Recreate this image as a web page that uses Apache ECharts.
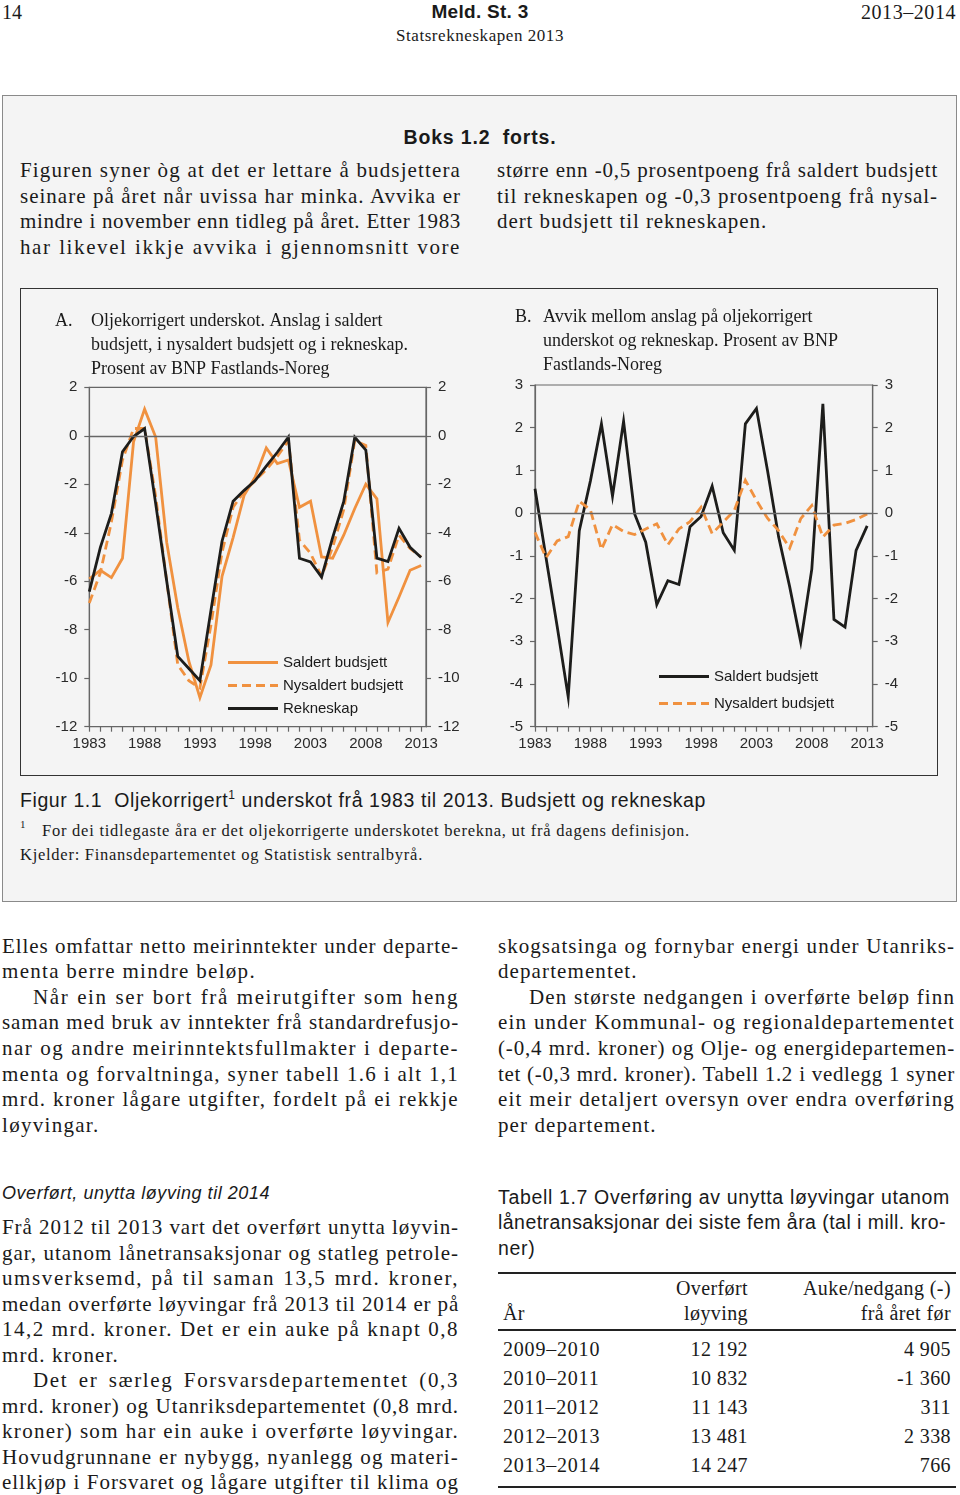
<!DOCTYPE html>
<html>
<head>
<meta charset="utf-8">
<script src="https://cdn.jsdelivr.net/npm/echarts@6/dist/echarts.min.js"></script>
<style>
  html, body { margin:0; padding:0; background:#fff; }
  body { width:960px; height:1495px; position:relative; overflow:hidden; color:#1a1a1a; }
  .t { position:absolute; white-space:nowrap; line-height:26px; }
  .serif { font-family:"Liberation Serif","DejaVu Serif",serif; font-size:21px; }
  .sans { font-family:"Liberation Sans",Arial,sans-serif; }
  .j { text-align:justify; text-align-last:justify; }
  #box { position:absolute; left:2px; top:95px; width:953px; height:805px; background:#f4f4f4; border:1.5px solid #8a8a8a; }
  #frame { position:absolute; left:20px; top:288px; width:916px; height:486px; border:1.5px solid #333; }
  #chart { position:absolute; left:0; top:280px; width:960px; height:500px; }
  .rule { position:absolute; left:498px; width:458px; background:#222; }
</style>
</head>
<body>
<div id="box"></div>
<div id="frame"></div>
<div id="chart"></div>
<div id="txt"></div>
<script>
// ---------- data ----------
const years = [1983,1984,1985,1986,1987,1988,1989,1990,1991,1992,1993,1994,1995,1996,1997,1998,1999,2000,2001,2002,2003,2004,2005,2006,2007,2008,2009,2010,2011,2012,2013];
const labelYears = [1983,1988,1993,1998,2003,2008,2013];

// Panel A: oil-corrected deficit, % of mainland GDP
const aSaldert   = [-5.9,-5.55,-5.85,-5.05,-0.25,1.1,-0.05,-4.4,-7.1,-9.3,-10.8,-9.45,-5.8,-4.2,-2.45,-1.7,-0.5,-1.15,-1.0,-2.95,-2.7,-5.0,-5.05,-4.1,-3.0,-2.0,-2.6,-7.7,-6.65,-5.55,-5.35];
const aNysaldert = [-6.9,-5.65,-3.55,-1.0,0.3,0.3,-2.5,-6.0,-9.45,-10.1,-10.4,-7.8,-4.8,-2.95,-2.3,-1.85,-1.4,-0.85,-0.2,-4.3,-4.85,-5.8,-4.6,-3.05,-0.2,-0.4,-5.65,-5.5,-4.1,-4.65,-5.0];
const aRekneskap = [-6.43,-4.6,-3.2,-0.66,-0.03,0.3,-2.8,-6.0,-9.1,-9.6,-10.1,-7.2,-4.35,-2.7,-2.25,-1.85,-1.25,-0.68,-0.05,-5.05,-5.2,-5.83,-4.2,-2.72,-0.06,-0.59,-5.05,-5.19,-3.82,-4.6,-5.02];

// Panel B: deviation between estimates and accounts
const bSaldert   = [0.57,-1.05,-2.65,-4.3,-0.41,0.75,2.09,0.4,2.15,-0.02,-0.68,-2.14,-1.58,-1.67,-0.32,-0.08,0.63,-0.46,-0.87,2.09,2.45,1.0,-0.55,-1.72,-3.02,-1.31,2.56,-2.49,-2.67,-0.87,-0.3];
const bNysaldert = [-0.45,-1.04,-0.65,-0.55,0.28,0.08,-0.85,-0.27,-0.43,-0.5,-0.37,-0.25,-0.74,-0.37,-0.2,0.14,-0.48,-0.21,0.06,0.77,0.3,-0.12,-0.41,-0.82,-0.13,0.18,-0.56,-0.28,-0.24,-0.15,-0.02];

const yTicksA = {min:-12, max:2, interval:2};
const yTicksB = {min:-5, max:3, interval:1};

// table
const tabYears = ["2009–2010","2010–2011","2011–2012","2012–2013","2013–2014"];
const tabOverfort = ["12 192","10 832","11 143","13 481","14 247"];
const tabAuke = ["4 905","-1 360","311","2 338","766"];

// ---------- page text ----------
const T = document.getElementById('txt');
function put(text, x, y, w, cls, extra, fillW, ls) {
  const d = document.createElement('div');
  d.className = 't ' + cls;
  d.style.left = x + 'px';
  d.style.top = (y - 13) + 'px';
  if (extra) Object.assign(d.style, extra);
  d.innerHTML = text;
  T.appendChild(d);
  let used = 0;
  if (fillW) {
    const nat = d.getBoundingClientRect().width;
    const n = d.textContent.length;
    used = (fillW - nat) / n;
    if (ls !== undefined) used = Math.max(ls[0], Math.min(ls[1], used));
    d.style.letterSpacing = used + 'px';
  } else if (typeof ls === 'number') {
    d.style.letterSpacing = ls + 'px'; used = ls;
  }
  if (w) d.style.width = w + 'px';
  d._ls = used;
  return d;
}
// header
put('14', 2, 12, 0, 'serif', {fontSize:'20px'});
put('Meld. St. 3', 380, 12, 200, 'sans', {fontWeight:'bold', fontSize:'19px', textAlign:'center'}, 97);
put('2013–2014', 760, 12, 196, 'serif', {fontSize:'20px', textAlign:'right'}, 95);
put('Statsrekneskapen 2013', 330, 36, 300, 'serif', {fontSize:'17px', textAlign:'center'}, 168);
put('Boks 1.2&nbsp; forts.', 380, 137, 200, 'sans', {fontWeight:'bold', fontSize:'19.5px', textAlign:'center'}, 153);

function col(lines, x, ys, w) {
  const els = lines.map((l,i)=>{
    const ind = l[1] ? 31 : 0;
    if (l[2]) return put(l[0], x+ind, ys[i], w-ind, 'serif j', null, w-ind-2, [-1, 1.6]);
    return null;
  });
  const vals = els.filter(e=>e).map(e=>e._ls).sort((a,b)=>a-b);
  const med = vals.length ? vals[Math.floor(vals.length/2)] : 0;
  lines.forEach((l,i)=>{
    if (!l[2]) { const ind = l[1] ? 31 : 0; put(l[0], x+ind, ys[i], 0, 'serif', null, 0, med); }
  });
}
const boxY = [170,196,221,247];
col([['Figuren syner òg at det er lettare å budsjettera',0,1],['seinare på året når uvissa har minka. Avvika er',0,1],['mindre i november enn tidleg på året. Etter 1983',0,1],['har likevel ikkje avvika i gjennomsnitt vore',0,1]], 20, boxY, 441);
col([['større enn -0,5 prosentpoeng frå saldert budsjett',0,1],['til rekneskapen og -0,3 prosentpoeng frå nysal-',0,1],['dert budsjett til rekneskapen.',0,0]], 497, boxY, 441);

put('Figur 1.1&nbsp; Oljekorrigert<sup style="font-size:12px;vertical-align:8px;line-height:0">1</sup> underskot frå 1983 til 2013. Budsjett og rekneskap', 20, 800, 0, 'sans', {fontSize:'19.5px'}, 686);
put('<sup style="font-size:11px;vertical-align:6px;line-height:0">1</sup>', 20, 829, 0, 'serif', {fontSize:'15px'});
put('For dei tidlegaste åra er det oljekorrigerte underskotet berekna, ut frå dagens definisjon.', 42, 831, 0, 'serif', {fontSize:'16.5px'}, 648);
put('Kjelder: Finansdepartementet og Statistisk sentralbyrå.', 20, 855, 0, 'serif', {fontSize:'16.5px'}, 403);

const bodyY = [946,971,997,1022,1048,1074,1099,1125];
const colL = [['Elles omfattar netto meirinntekter under departe-',0,1],['menta berre mindre beløp.',0,0],['Når ein ser bort frå meirutgifter som heng',1,1],['saman med bruk av inntekter frå standardrefusjo-',0,1],['nar og andre meirinntektsfullmakter i departe-',0,1],['menta og forvaltninga, syner tabell 1.6 i alt 1,1',0,1],['mrd. kroner lågare utgifter, fordelt på ei rekkje',0,1],['løyvingar.',0,0]];
const colR = [['skogsatsinga og fornybar energi under Utanriks-',0,1],['departementet.',0,0],['Den største nedgangen i overførte beløp finn',1,1],['ein under Kommunal- og regionaldepartementet',0,1],['(-0,4 mrd. kroner) og Olje- og energidepartemen-',0,1],['tet (-0,3 mrd. kroner). Tabell 1.2 i vedlegg 1 syner',0,1],['eit meir detaljert oversyn over endra overføring',0,1],['per departement.',0,0]];
col(colL, 2, bodyY, 457);
col(colR, 498, bodyY, 457);

put('Overført, unytta løyving til 2014', 2, 1193, 0, 'sans', {fontStyle:'italic', fontSize:'18px'}, 268);
const lowY = [1227,1253,1278,1304,1329,1355,1380,1406,1431,1457,1482];
const colL2 = [['Frå 2012 til 2013 vart det overført unytta løyvin-',0,1],['gar, utanom lånetransaksjonar og statleg petrole-',0,1],['umsverksemd, på til saman 13,5 mrd. kroner,',0,1],['medan overførte løyvingar frå 2013 til 2014 er på',0,1],['14,2 mrd. kroner. Det er ein auke på knapt 0,8',0,1],['mrd. kroner.',0,0],['Det er særleg Forsvarsdepartementet (0,3',1,1],['mrd. kroner) og Utanriksdepartementet (0,8 mrd.',0,1],['kroner) som har ein auke i overførte løyvingar.',0,1],['Hovudgrunnane er nybygg, nyanlegg og materi-',0,1],['ellkjøp i Forsvaret og lågare utgifter til klima og',0,1]];
col(colL2, 2, lowY, 457);

const c1 = put('Tabell 1.7 Overføring av unytta løyvingar utanom', 498, 1197, 0, 'sans', {fontSize:'19.5px'}, 452);
put('lånetransaksjonar dei siste fem åra (tal i mill. kro-', 498, 1222, 0, 'sans', {fontSize:'19.5px'}, 448);
put('ner)', 498, 1248, 0, 'sans', {fontSize:'19.5px'}, 0, c1._ls);
function rule(y, h) { const d=document.createElement('div'); d.className='rule'; d.style.top=(y-h/2)+'px'; d.style.height=h+'px'; T.appendChild(d); }
rule(1273, 2); rule(1330, 2); rule(1487, 2);
const hs = {fontSize:'20px', textAlign:'right'};
const h1 = put('Auke/nedgang (-)', 760, 1288, 191, 'serif', hs, 148);
const tl = h1._ls;
put('Overført', 640, 1288, 108, 'serif', hs, 0, tl);
put('løyving', 640, 1313, 108, 'serif', hs, 0, tl);
put('frå året før', 760, 1313, 191, 'serif', hs, 0, tl);
put('År', 503, 1313, 0, 'serif', {fontSize:'20px'}, 0, tl);
const rowY = [1349,1378,1407,1436,1465];
tabYears.forEach((s,i)=>{
  put(s, 503, rowY[i], 0, 'serif', {fontSize:'20px'}, 0, 0.8);
  put(tabOverfort[i], 640, rowY[i], 108, 'serif', hs, 0, 0.4);
  put(tabAuke[i], 760, rowY[i], 191, 'serif', hs, 0, 0.4);
});

// ---------- charts ----------
const ORANGE = '#F0913F', BLACK = '#1d1d1b', AX = '#666';
const pairs = arr => years.map((y,i)=>[y, arr[i]]);
const lab = {fontFamily:'Liberation Sans, Arial, sans-serif', fontSize:15, color:'#2a2a2a'};

function xAx(gi, max) {
  return {type:'value', gridIndex:gi, min:1983, max:max,
    axisLine:{show:true, onZero:false, lineStyle:{color:AX, width:1.2}},
    axisTick:{show:true, length:5, customValues:years, lineStyle:{color:AX, width:1.2}},
    axisLabel:Object.assign({customValues:labelYears, margin:10, formatter:v=>String(v)}, lab),
    splitLine:{show:false}};
}
function yAx(gi, pos, t) {
  return {type:'value', gridIndex:gi, position:pos, min:t.min, max:t.max, interval:t.interval,
    axisLine:{show:true, onZero:false, lineStyle:{color:AX, width:1.2}},
    axisTick:{show:true, length:5, lineStyle:{color:AX, width:1.2}},
    axisLabel:Object.assign({margin:12}, lab),
    splitLine:{show:false}};
}
const zeroLine = {silent:true, symbol:'none', label:{show:false}, lineStyle:{color:AX, type:'solid', width:1.3}, data:[{yAxis:0}]};
function ser(name, data, xi, yi, color, dashed, extra) {
  return Object.assign({type:'line', name:name, data:pairs(data), xAxisIndex:xi, yAxisIndex:yi,
    showSymbol:false, symbol:'none', animation:false,
    lineStyle:{color:color, width:2.8, type: dashed ? [9,5] : 'solid', cap:'butt', join:'miter'},
    itemStyle:{color:color}}, extra||{});
}
const titleStyle = {fontFamily:'Liberation Serif, Times New Roman, serif', fontSize:18, fill:'#1a1a1a'};
function gtext(txt, x, y) { return {type:'text', left:x, top:y, style:Object.assign({text:txt}, titleStyle)}; }
const legText = {fontFamily:'Liberation Sans, Arial, sans-serif', fontSize:15, color:'#1a1a1a'};
const ICON_SOLID = 'path://M0,0h50v3h-50z';
const ICON_DASH = 'path://M0,0h9v3h-9z M14,0h9v3h-9z M28,0h9v3h-9z M42,0h8v3h-8z';

const chart = echarts.init(document.getElementById('chart'), null, {renderer:'canvas'});
chart.setOption({
  animation:false,
  grid:[
    {left:89.3, top:107.3, width:336.7, height:339.4, show:true, borderColor:AX, borderWidth:1.2, backgroundColor:'transparent'},
    {left:535, top:105, width:337.7, height:341.7, show:true, borderColor:AX, borderWidth:1.2, backgroundColor:'transparent'}
  ],
  xAxis:[xAx(0, 2013.44), xAx(1, 2013.5)],
  yAxis:[yAx(0,'left',yTicksA), yAx(0,'right',yTicksA), yAx(1,'left',yTicksB), yAx(1,'right',yTicksB)],
  legend:[
    {orient:'vertical', left:223, top:370, itemWidth:50, itemHeight:3, itemGap:8, symbolKeepAspect:false,
     textStyle:legText,
     data:[{name:'Saldert budsjett', icon:ICON_SOLID},{name:'Nysaldert budsjett', icon:ICON_DASH},{name:'Rekneskap', icon:ICON_SOLID}]},
    {orient:'vertical', left:654, top:384, itemWidth:50, itemHeight:3, itemGap:12, symbolKeepAspect:false,
     textStyle:legText,
     data:[{name:'Saldert budsjett ', icon:ICON_SOLID},{name:'Nysaldert budsjett ', icon:ICON_DASH}]}
  ],
  graphic:[
    gtext('A.', 55, 32), gtext('Oljekorrigert underskot. Anslag i saldert', 91, 32),
    gtext('budsjett, i nysaldert budsjett og i rekneskap.', 91, 56), gtext('Prosent av BNP Fastlands-Noreg', 91, 80),
    gtext('B.', 515, 28), gtext('Avvik mellom anslag på oljekorrigert', 543, 28),
    gtext('underskot og rekneskap. Prosent av BNP', 543, 52), gtext('Fastlands-Noreg', 543, 76)
  ],
  series:[
    ser('Saldert budsjett', aSaldert, 0, 0, ORANGE, false, {markLine:zeroLine}),
    ser('Nysaldert budsjett', aNysaldert, 0, 0, ORANGE, true),
    ser('Rekneskap', aRekneskap, 0, 0, BLACK, false),
    ser('Saldert budsjett ', bSaldert, 1, 2, BLACK, false, {markLine:zeroLine}),
    ser('Nysaldert budsjett ', bNysaldert, 1, 2, ORANGE, true)
  ]
});
</script>
</body>
</html>
